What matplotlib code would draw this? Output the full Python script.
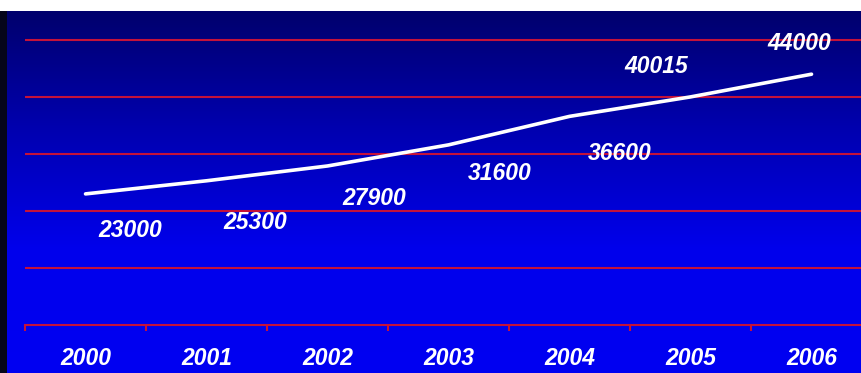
import numpy as np
import matplotlib.pyplot as plt
from matplotlib.colors import LinearSegmentedColormap
from matplotlib.patches import Rectangle

years = ['2000', '2001', '2002', '2003', '2004', '2005', '2006']
values = [23000, 25300, 27900, 31600, 36600, 40015, 44000]
grid_levels = [10000, 20000, 30000, 40000, 50000]
# where each value label sits relative to its point (pixels)
label_offsets = [(45, -37), (49, -42), (47, -33), (51, -29), (50, -37), (-34, 30), (-12, 31)]

red = '#c4123a'
font = dict(family='Liberation Sans', weight='bold', style='italic', size=16.5, color='white')

W, H = 861, 373
fig = plt.figure(figsize=((W + 0.01) / 100, (H + 0.01) / 100), dpi=100)
fig.patch.set_facecolor('white')
# dark strip on the left edge of the panel
fig.add_artist(Rectangle((0, 0), 7 / W, 362 / H, transform=fig.transFigure,
                         facecolor='#05051a', edgecolor='none', zorder=0))
ax = fig.add_axes([7 / W, 0, (W - 7) / W, 362 / H])

xmin, xmax = -0.649, 6.409
ymin, ymax = -8421, 55088
ax.set_xlim(xmin, xmax)
ax.set_ylim(ymin, ymax)

# navy to bright blue gradient behind everything
bg = LinearSegmentedColormap.from_list('bg', [(0, '#0000f2'), (0.34, '#0000ec'),
                                              (0.67, '#0000b0'), (1, '#00006c')])
grad = np.linspace(0, 1, 256).reshape(-1, 1)
ax.imshow(grad, cmap=bg, origin='lower', aspect='auto',
          extent=[xmin, xmax, ymin, ymax], zorder=0)

x = np.arange(len(years))
ax.hlines(grid_levels, -0.5, xmax, color=red, lw=1.5, zorder=1)

# category axis at zero with boundary ticks
ax.spines[['top', 'right', 'left']].set_visible(False)
ax.spines['bottom'].set_position(('data', 0))
ax.spines['bottom'].set_bounds(-0.5, xmax)
ax.spines['bottom'].set_color(red)
ax.spines['bottom'].set_linewidth(1.5)
ax.set_yticks([])
ax.set_xticks(x)
ax.set_xticklabels(years, fontdict=font)
ax.set_xticks(np.arange(len(years)) - 0.5, minor=True)
ax.tick_params(axis='x', which='major', length=0, pad=16)
ax.tick_params(axis='x', which='minor', length=4, width=1.5, color=red, direction='out')

ax.plot(x, values, color='white', lw=2.6, solid_joinstyle='round',
        solid_capstyle='round', zorder=3)

for i, v in enumerate(values):
    dx, dy = label_offsets[i]
    ax.annotate(str(v), xy=(i, v), xytext=(dx, dy), textcoords='offset pixels',
                ha='center', va='center', zorder=4, **font)

fig.savefig('out.png', dpi=100, bbox_inches=None)
